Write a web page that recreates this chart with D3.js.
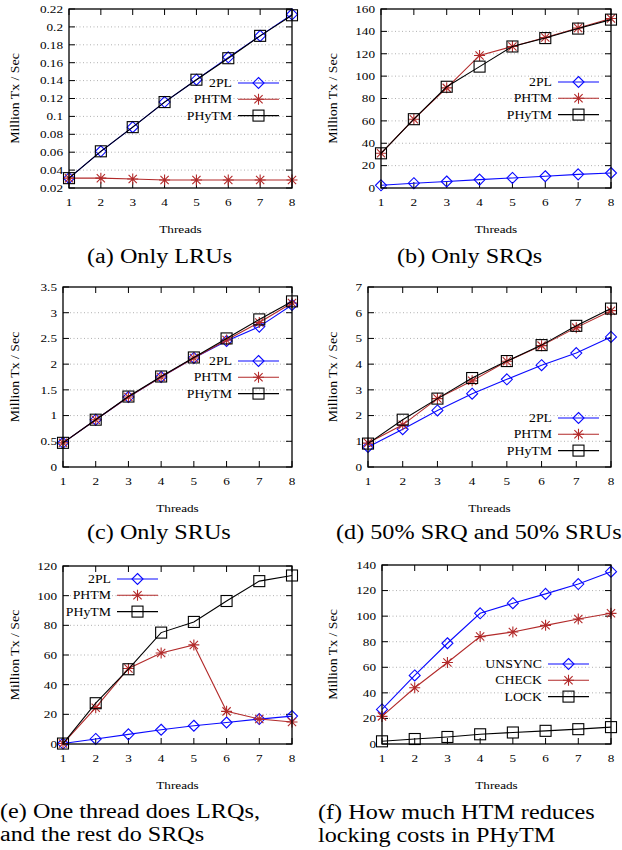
<!DOCTYPE html>
<html>
<head>
<meta charset="utf-8">
<script src="https://cdn.jsdelivr.net/npm/d3@7.9.0/dist/d3.min.js"></script>
<style>
  html, body { margin: 0; padding: 0; background: #fff; }
  svg { display: block; }
</style>
</head>
<body>
<svg id="chart" width="622" height="850" font-family="'Liberation Serif', 'DejaVu Serif', serif"></svg>
<script>
const threads = [1, 2, 3, 4, 5, 6, 7, 8];

// (a) Only LRUs
const lru2PL   = [0.031, 0.061, 0.088, 0.116, 0.141, 0.166, 0.190, 0.214];
const lruPHTM  = [0.031, 0.031, 0.030, 0.029, 0.029, 0.029, 0.029, 0.029];
const lruPHyTM = [0.031, 0.061, 0.088, 0.116, 0.141, 0.165, 0.190, 0.213];
const lruTicks = [0.02, 0.04, 0.06, 0.08, 0.1, 0.12, 0.14, 0.16, 0.18, 0.2, 0.22];

// (b) Only SRQs
const srq2PL   = [2.4, 4.3, 5.8, 7.5, 9.0, 10.5, 12.2, 13.4];
const srqPHTM  = [31, 61.5, 89.5, 118.5, 126.5, 134.5, 143, 151.5];
const srqPHyTM = [31, 61.5, 90.5, 108.5, 126.5, 134, 142.5, 150.5];
const srqTicks = [0, 20, 40, 60, 80, 100, 120, 140, 160];

// (c) Only SRUs
const sru2PL   = [0.47, 0.92, 1.36, 1.75, 2.12, 2.45, 2.73, 3.15];
const sruPHTM  = [0.47, 0.92, 1.36, 1.75, 2.12, 2.47, 2.81, 3.19];
const sruPHyTM = [0.47, 0.92, 1.37, 1.76, 2.13, 2.50, 2.87, 3.22];
const sruTicks = [0, 0.5, 1, 1.5, 2, 2.5, 3, 3.5];

// (d) 50% SRQ and 50% SRUs
const mix2PL   = [0.78, 1.47, 2.2, 2.85, 3.41, 3.96, 4.43, 5.06];
const mixPHTM  = [0.93, 1.64, 2.66, 3.35, 4.11, 4.72, 5.42, 6.08];
const mixPHyTM = [0.91, 1.84, 2.66, 3.46, 4.12, 4.74, 5.49, 6.16];
const mixTicks = [0, 1, 2, 3, 4, 5, 6, 7];

// (e) One thread does LRQs, the rest SRQs
const lrq2PL   = [0.3, 3.4, 6.5, 9.6, 12.3, 14.5, 16.8, 18.8];
const lrqPHTM  = [0.3, 24.5, 50.9, 61.3, 66.8, 22, 16.8, 14.8];
const lrqPHyTM = [0.3, 27.5, 50.4, 75.1, 82.3, 96.4, 109.8, 113.6];
const lrqTicks = [0, 20, 40, 60, 80, 100, 120];

// (f) How much HTM reduces locking costs
const htmUnsync = [27, 53.6, 78.8, 102.2, 110.1, 117.4, 125.1, 134.8];
const htmCheck  = [21.6, 44, 63.7, 84, 87.6, 92.8, 97.8, 102.2];
const htmLock   = [2.1, 3.9, 5.5, 7.6, 9.0, 10.3, 11.6, 13.2];
const htmTicks  = [0, 20, 40, 60, 80, 100, 120, 140];

const seriesNames = ['2PL', 'PHTM', 'PHyTM'];
const lockNames = ['UNSYNC', 'CHECK', 'LOCK'];

const styles = [
  { color: '#0a0aff', mark: 'diamond' },
  { color: '#b22a2a', mark: 'star' },
  { color: '#000000', mark: 'square' },
];

const panels = [
  { box: [69, 292, 9, 188], ticks: lruTicks, names: seriesNames, values: [lru2PL, lruPHTM, lruPHyTM],
    yLabelX: 15, legend: [238, 83], caption: ['(a) Only LRUs'], capX: 87, capY: 263 },
  { box: [381, 611, 9, 188], ticks: srqTicks, names: seriesNames, values: [srq2PL, srqPHTM, srqPHyTM],
    yLabelX: 333, legend: [558, 82], caption: ['(b) Only SRQs'], capX: 397, capY: 263 },
  { box: [63, 292, 287, 467], ticks: sruTicks, names: seriesNames, values: [sru2PL, sruPHTM, sruPHyTM],
    yLabelX: 15, legend: [238, 361], caption: ['(c) Only SRUs'], capX: 87, capY: 539 },
  { box: [368, 611, 287, 467], ticks: mixTicks, names: seriesNames, values: [mix2PL, mixPHTM, mixPHyTM],
    yLabelX: 333, legend: [558, 418], caption: ['(d) 50% SRQ and 50% SRUs'], capX: 336, capY: 539 },
  { box: [63, 292, 566, 744], ticks: lrqTicks, names: seriesNames, values: [lrq2PL, lrqPHTM, lrqPHyTM],
    yLabelX: 15, legend: [117, 579], caption: ['(e) One thread does LRQs,', 'and the rest do SRQs'], capX: 0, capY: 818 },
  { box: [382, 611, 565, 744], ticks: htmTicks, names: lockNames, values: [htmUnsync, htmCheck, htmLock],
    yLabelX: 333, legend: [548, 664], caption: ['(f) How much HTM reduces', 'locking costs in PHyTM'], capX: 318, capY: 819 },
];

const svg = d3.select('#chart');

// text with the slightly wide glyphs of the original
function wideText(g, x, y, str, size, anchor, rot = 0, sx = 1.2) {
  return g.append('text')
    .attr('transform', `translate(${x},${y}) rotate(${rot}) scale(${sx},1)`)
    .attr('text-anchor', anchor)
    .attr('font-size', size)
    .attr('fill', '#000')
    .text(str);
}

function drawMark(g, kind, x, y, color) {
  const r = 5.5;
  if (kind === 'diamond') {
    g.append('path')
      .attr('d', `M${x},${y - r}L${x + r},${y}L${x},${y + r}L${x - r},${y}Z`)
      .attr('fill', 'none').attr('stroke', color).attr('stroke-width', 1.1);
  } else if (kind === 'square') {
    g.append('rect')
      .attr('x', x - r).attr('y', y - r).attr('width', 2 * r).attr('height', 2 * r)
      .attr('fill', 'none').attr('stroke', color).attr('stroke-width', 1.1);
  } else {
    const d = r * 0.75;
    g.append('path')
      .attr('d', `M${x - r},${y}H${x + r}M${x},${y - r}V${y + r}M${x - d},${y - d}L${x + d},${y + d}M${x - d},${y + d}L${x + d},${y - d}`)
      .attr('stroke', color).attr('stroke-width', 1.1);
  }
}

function renderPanel(p) {
  const [left, right, top, bottom] = p.box;
  const g = svg.append('g');

  const x = d3.scaleLinear().domain([1, 8]).range([left, right]);
  const y = d3.scaleLinear().domain(d3.extent(p.ticks)).range([bottom, top]);

  // dotted grid
  g.append('g')
    .selectAll('line')
    .data(p.ticks.slice(1, -1))
    .join('line')
    .attr('x1', left).attr('x2', right)
    .attr('y1', d => y(d)).attr('y2', d => y(d))
    .attr('stroke', '#a8a8a8').attr('stroke-width', 0.9)
    .attr('stroke-dasharray', '1,2.5');

  // inward ticks on all four sides
  const tl = 6;
  const tickG = g.append('g').attr('stroke', '#000').attr('stroke-width', 1);
  p.ticks.forEach(t => {
    tickG.append('line').attr('x1', left).attr('x2', left + tl).attr('y1', y(t)).attr('y2', y(t));
    tickG.append('line').attr('x1', right).attr('x2', right - tl).attr('y1', y(t)).attr('y2', y(t));
    wideText(g, left - 6, y(t), String(t), 11, 'end').attr('dy', '0.35em');
  });
  threads.forEach(t => {
    tickG.append('line').attr('x1', x(t)).attr('x2', x(t)).attr('y1', bottom).attr('y2', bottom - tl);
    tickG.append('line').attr('x1', x(t)).attr('x2', x(t)).attr('y1', top).attr('y2', top + tl);
    wideText(g, x(t), bottom + 18, String(t), 11, 'middle');
  });

  // series
  const line = d3.line().x((d, i) => x(threads[i])).y(d => y(d));
  p.values.forEach((vals, si) => {
    const st = styles[si];
    g.append('path').attr('d', line(vals))
      .attr('fill', 'none').attr('stroke', st.color).attr('stroke-width', 1.1);
    vals.forEach((v, i) => drawMark(g, st.mark, x(threads[i]), y(v), st.color));
  });

  // frame
  g.append('rect')
    .attr('x', left).attr('y', top)
    .attr('width', right - left).attr('height', bottom - top)
    .attr('fill', 'none').attr('stroke', '#000').attr('stroke-width', 1.3);

  // legend
  const [lx, ly] = p.legend;
  p.names.forEach((name, si) => {
    const st = styles[si];
    const yy = ly + si * 16.3;
    g.append('line').attr('x1', lx).attr('x2', lx + 41).attr('y1', yy).attr('y2', yy)
      .attr('stroke', st.color).attr('stroke-width', 1.1);
    drawMark(g, st.mark, lx + 20.5, yy, st.color);
    wideText(g, lx - 6, yy, name, 11.5, 'end').attr('dy', '0.35em');
  });

  // axis titles
  wideText(g, (left + right) / 2, bottom + 45, 'Threads', 11, 'middle');
  wideText(g, p.yLabelX + 4, (top + bottom) / 2, 'Million Tx / Sec', 11.5, 'middle', -90);

  // caption
  p.caption.forEach((c, i) => {
    wideText(g, p.capX, p.capY + i * 22.5, c, 20, 'start', 0, 1.21);
  });
}

panels.forEach(renderPanel);
</script>
</body>
</html>
